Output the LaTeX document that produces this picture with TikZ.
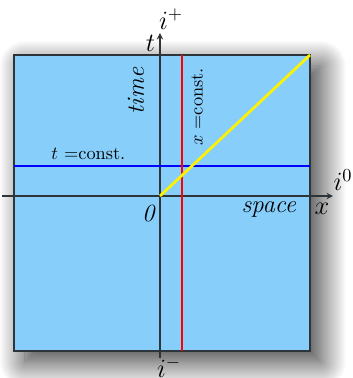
\documentclass[tikz,border=0pt]{standalone}
\usetikzlibrary{shadows.blur}
\definecolor{skyfill}{RGB}{135,206,250}
\definecolor{edgegray}{RGB}{45,52,58}
\begin{document}
\begin{tikzpicture}[x=0.0192cm, y=0.0192cm, >=stealth]
    \tikzset{
      lbl/.style={font=\fontsize{14}{17}\selectfont, inner sep=1pt},
      wrd/.style={font=\fontsize{13.5}{16}\selectfont\itshape, inner sep=1pt},
      cst/.style={inner sep=1pt},
      wl/.style={line width=1.1pt},
      ax/.style={->, draw=edgegray, line width=0.6pt},
    }
    \useasboundingbox (-160,-182) rectangle (193,196);

    % diagram square
    \coordinate (sw) at (-146,-155);
    \coordinate (ne) at (150,141);
    \fill[skyfill, blur shadow={shadow xshift=6pt, shadow yshift=-6pt,
          shadow blur radius=14pt, shadow blur steps=40,
          shadow opacity=80}] (sw) rectangle (ne);
    \draw[edgegray, line width=0.7pt] (sw) rectangle (ne);

    % axes
    \coordinate (O) at (0,0);
    \coordinate (tbot) at (0,-162);
    \coordinate (ttop) at (0,163);
    \coordinate (xlft) at (-158,0);
    \coordinate (xrgt) at (173,0);
    \draw[ax] (tbot) -- (ttop);
    \draw[ax] (xlft) -- (xrgt);

    % lines of constant t and x, light ray
    \coordinate (bl) at (-146,30);
    \coordinate (br) at (150,30);
    \coordinate (rb) at (22,-155);
    \coordinate (rt) at (22,141);
    \draw[wl, blue] (bl) -- (br);
    \draw[wl, red] (rb) -- (rt);
    \draw[line width=1.5pt, yellow] (O) -- (ne);

    % labels
    \node[lbl] (iplus) at (11,177) {$i^+$};
    \node[lbl] (imin) at (9,-171) {$i^-$};
    \node[lbl] (izero) at (183,16) {$i^0$};
    \node[lbl] (tlab) at (-9.5,153) {$t$};
    \node[lbl] (xlab) at (162,-13) {$x$};
    \node[wrd] (zero) at (-11.6,-17.7) {0};
    \node[wrd] (spc) at (108.7,-13) {space};
    \node[wrd, rotate=90] (tim) at (-24,105) {time};
    \node[cst, rotate=90] (xcst) at (37,89) {$x$ =const.};
    \node[cst] (tcst) at (-71.6,42) {$t$ =const.};
  \end{tikzpicture}
\end{document}
